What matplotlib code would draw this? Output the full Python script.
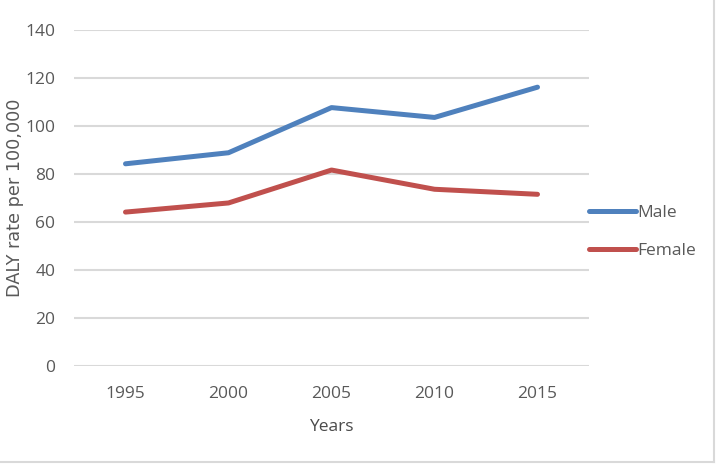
import matplotlib
matplotlib.use("Agg")
import matplotlib.pyplot as plt
from matplotlib.lines import Line2D

years = ["1995", "2000", "2005", "2010", "2015"]
male = [84.3, 88.9, 107.7, 103.6, 116.2]
female = [64.2, 68.0, 81.7, 73.7, 71.6]
yticks = [0, 20, 40, 60, 80, 100, 120, 140]

W, H = 718, 467
fig = plt.figure(figsize=(W / 100, H / 100), dpi=100)
ax = fig.add_axes([74 / W, 1 - 366.3 / H, (589 - 74) / W, (366.3 - 30) / H])

font = "Open Sans"
tick_color = "#595959"
x = list(range(len(years)))
ax.plot(x, male, color="#4F81BD", lw=3.6, solid_capstyle="round", label="Male", zorder=3)
ax.plot(x, female, color="#C0504D", lw=3.6, solid_capstyle="round", label="Female", zorder=3)

ax.set_xlim(-0.5, len(years) - 0.5)
ax.set_ylim(0, 140)
ax.set_yticks(yticks)
ax.set_xticks(x)
ax.set_xticklabels(years)
ax.grid(axis="y", color="#D9D9D9", lw=1.5)
ax.set_axisbelow(True)
for s in ax.spines.values():
    s.set_visible(False)
ax.tick_params(length=0, labelsize=12.5, labelcolor=tick_color)
ax.tick_params(axis="x", pad=14.5)
ax.tick_params(axis="y", pad=13.5)
for lab in ax.get_xticklabels() + ax.get_yticklabels():
    lab.set_fontfamily(font)

ax.set_xlabel("Years", fontsize=12.5, family=font, color="#4a4a4a", labelpad=12)
fig.text(15 / W, 1 - 198 / H, "DALY rate per 100,000", rotation=90, ha="center", va="center",
         fontsize=12.7, family="DejaVu Sans", color=tick_color)

leg = ax.legend(loc="center left", bbox_to_anchor=(589 / W, 1 - 232 / H), bbox_transform=fig.transFigure,
                frameon=False, handlelength=2.7, handletextpad=0.1, labelspacing=1.25, borderaxespad=0,
                borderpad=0, prop={"family": font, "size": 12.5})
for t in leg.get_texts():
    t.set_color(tick_color)

fig.add_artist(Line2D([714 / W, 714 / W], [1 - 461.5 / H, 1], transform=fig.transFigure, color="#D9D9D9", lw=1.5))
fig.add_artist(Line2D([0, 714 / W], [1 - 461.5 / H, 1 - 461.5 / H], transform=fig.transFigure, color="#D9D9D9", lw=1.5))

fig.savefig("out.png", dpi=100, facecolor="white")
